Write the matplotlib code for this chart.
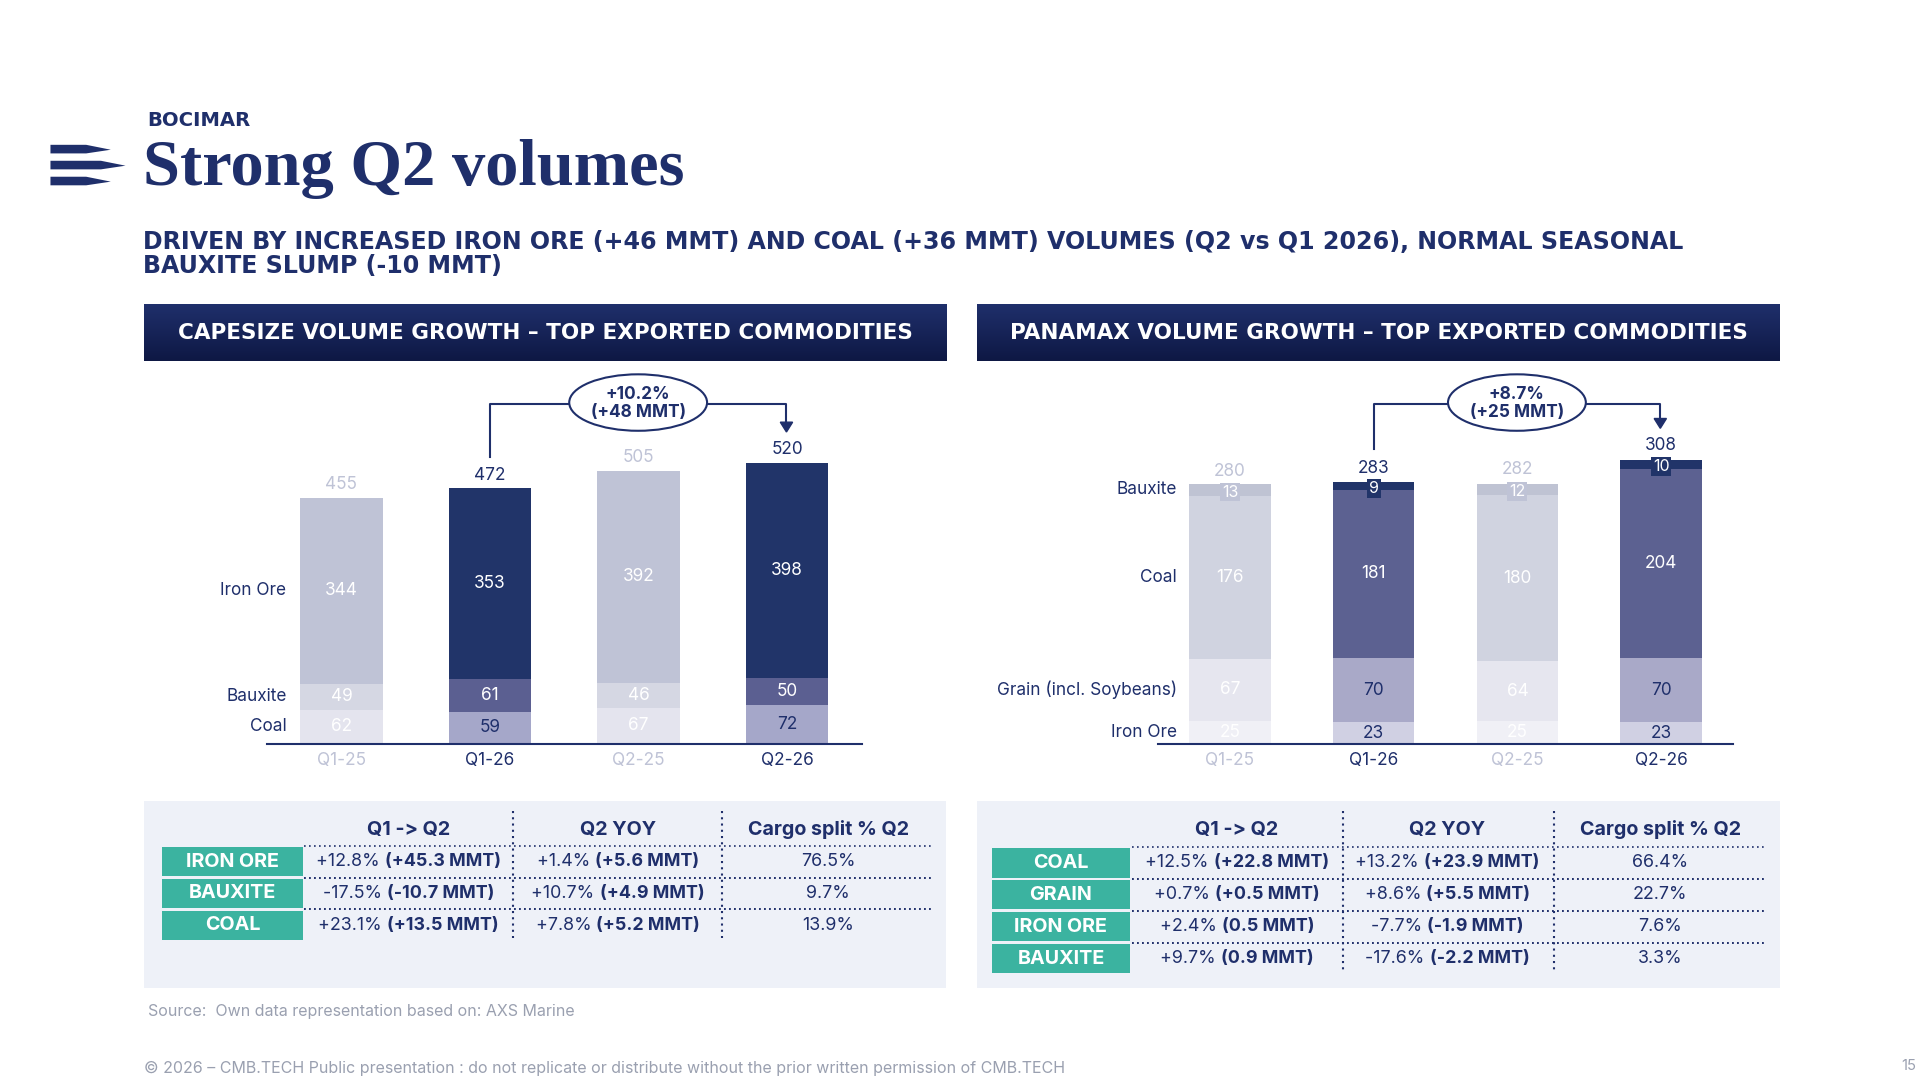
import numpy as np
import matplotlib.pyplot as plt
from matplotlib.patches import Rectangle, Ellipse, Polygon
from matplotlib.colors import LinearSegmentedColormap

plt.rcParams['font.family'] = ['Inter', 'DejaVu Sans']

# Data
quarters = ['Q1-25', 'Q1-26', 'Q2-25', 'Q2-26']
highlight = [False, True, False, True]

cape_series = ['Coal', 'Bauxite', 'Iron Ore']
cape_values = {'Coal': [62, 59, 67, 72], 'Bauxite': [49, 61, 46, 50], 'Iron Ore': [344, 353, 392, 398]}
cape_totals = [455, 472, 505, 520]

pana_series = ['Iron Ore', 'Grain (incl. Soybeans)', 'Coal', 'Bauxite']
pana_values = {'Iron Ore': [25, 23, 25, 23], 'Grain (incl. Soybeans)': [67, 70, 64, 70],
               'Coal': [176, 181, 180, 204], 'Bauxite': [13, 9, 12, 10]}
pana_totals = [280, 283, 282, 308]

cape_rows = ['IRON ORE', 'BAUXITE', 'COAL']
cape_q1q2 = [('+12.8%', '(+45.3 MMT)'), ('-17.5%', '(-10.7 MMT)'), ('+23.1%', '(+13.5 MMT)')]
cape_yoy = [('+1.4%', '(+5.6 MMT)'), ('+10.7%', '(+4.9 MMT)'), ('+7.8%', '(+5.2 MMT)')]
cape_split = ['76.5%', '9.7%', '13.9%']

pana_rows = ['COAL', 'GRAIN', 'IRON ORE', 'BAUXITE']
pana_q1q2 = [('+12.5%', '(+22.8 MMT)'), ('+0.7%', '(+0.5 MMT)'), ('+2.4%', '(0.5 MMT)'), ('+9.7%', '(0.9 MMT)')]
pana_yoy = [('+13.2%', '(+23.9 MMT)'), ('+8.6%', '(+5.5 MMT)'), ('-7.7%', '(-1.9 MMT)'), ('-17.6%', '(-2.2 MMT)')]
pana_split = ['66.4%', '22.7%', '7.6%', '3.3%']

NAVY = '#1f2f6b'
TEAL = '#3bb3a0'
W, H = 1560, 880

cape_colors = {
    'Coal': ('#e4e4ee', '#a5a7c9'),
    'Bauxite': ('#d5d7e3', '#5b5f91'),
    'Iron Ore': ('#bfc3d6', '#213469'),
}
cape_lab = {'Coal': NAVY, 'Bauxite': 'white', 'Iron Ore': 'white'}
pana_colors = {
    'Iron Ore': ('#f0f0f6', '#d0d0e3'),
    'Grain (incl. Soybeans)': ('#e6e6ef', '#a9a9c8'),
    'Coal': ('#d0d3e0', '#5c6191'),
    'Bauxite': ('#bfc3d3', '#213469'),
}
pana_lab = {'Iron Ore': NAVY, 'Grain (incl. Soybeans)': NAVY, 'Coal': 'white', 'Bauxite': 'white'}

fig = plt.figure(figsize=(19.2, 10.8), dpi=100)
fig.patch.set_facecolor('white')
ov = fig.add_axes([0, 0, 1, 1])
ov.axis('off')

def pt(px):
    return px * (1920 / W) * 72 / 100

# header
ov.text(120, 98, 'BOCIMAR', fontsize=pt(16), fontweight='bold', color=NAVY, va='center',
        family='DejaVu Sans')
ov.text(116, 138, 'Strong Q2 volumes', fontsize=pt(54), fontweight='bold', color=NAVY,
        va='center', family='Liberation Serif')
for y0, x1 in [(118, 90), (131, 102), (144, 90)]:
    ov.add_patch(Polygon([[41, y0], [x1 - 20, y0], [x1, y0 + 4], [x1 - 20, y0 + 7], [41, y0 + 7]],
                         closed=True, color=NAVY, lw=0))
ov.text(116, 207, 'DRIVEN BY INCREASED IRON ORE (+46 MMT) AND COAL (+36 MMT) VOLUMES (Q2 vs Q1 2026), NORMAL SEASONAL\nBAUXITE SLUMP (-10 MMT)',
        fontsize=pt(19.3), fontweight='bold', color=NAVY, va='center', linespacing=1.0,
        family='DejaVu Sans')

grad = np.linspace(0, 1, 50).reshape(-1, 1)
cmap = LinearSegmentedColormap.from_list('g', ['#1f2f6b', '#0e1844'])
for x0, txt in [(117, 'CAPESIZE VOLUME GROWTH – TOP EXPORTED COMMODITIES'),
                (794, 'PANAMAX VOLUME GROWTH – TOP EXPORTED COMMODITIES')]:
    ov.imshow(grad, extent=[x0, x0 + 652, 294, 248], cmap=cmap, aspect='auto', zorder=1)
    ov.text(x0 + 326, 271, txt, color='white', fontsize=pt(17.5), fontweight='bold',
            ha='center', va='center', zorder=2, family='DejaVu Sans')
ov.set_xlim(0, W)
ov.set_ylim(H, 0)

def bar_axes(x0, x1, ytop, ymax):
    ax = fig.add_axes([x0 / W, 1 - 606 / H, (x1 - x0) / W, (606 - ytop) / H])
    ax.set_xlim(-0.5, 3.5)
    ax.set_ylim(0, ymax)
    ax.patch.set_alpha(0)
    for s in ['top', 'right', 'left']:
        ax.spines[s].set_visible(False)
    ax.spines['bottom'].set_color(NAVY)
    ax.spines['bottom'].set_linewidth(1.5)
    ax.set_yticks([])
    ax.set_xticks(range(4))
    ax.set_xticklabels(quarters, fontsize=pt(14))
    for lab, hl in zip(ax.get_xticklabels(), highlight):
        lab.set_color(NAVY if hl else '#bfc3d6')
    ax.tick_params(axis='x', length=0, pad=6)
    return ax

def draw_stack(ax, series, values, colors, labcol, totals, width, small=()):
    x = np.arange(4)
    bottom = np.zeros(4)
    ymax = ax.get_ylim()[1]
    for s in series:
        v = np.array(values[s], dtype=float)
        cols = [colors[s][1] if hl else colors[s][0] for hl in highlight]
        ax.bar(x, v, width, bottom=bottom, color=cols, lw=0)
        for i in range(4):
            if s in small:
                ax.text(x[i], bottom[i] + v[i] / 2 - ymax * 0.006, str(values[s][i]), ha='center', va='center',
                        fontsize=pt(13), color='white',
                        bbox=dict(boxstyle='square,pad=0.12', fc=colors[s][1] if highlight[i] else '#bfc3d6', lw=0))
            else:
                ax.text(x[i], bottom[i] + v[i] / 2, str(values[s][i]), ha='center', va='center',
                        fontsize=pt(14), color=labcol[s] if highlight[i] else 'white')
        ax.text(-0.37, bottom[0] + v[0] / 2, s, ha='right', va='center', fontsize=pt(14), color=NAVY)
        bottom += v
    for i in range(4):
        ax.text(x[i], totals[i] + ymax * 0.012, str(totals[i]), ha='center', va='bottom', fontsize=pt(14),
                color=NAVY if highlight[i] else '#bfc3d6')

ax1 = bar_axes(217, 700, 300, 695)
draw_stack(ax1, cape_series, cape_values, cape_colors, cape_lab, cape_totals, 0.555)
ax2 = bar_axes(941, 1408, 300, 406)
draw_stack(ax2, pana_series, pana_values, pana_colors, pana_lab, pana_totals, 0.565, small=('Bauxite',))

# growth brackets
for xa, xb, ya, yb, txt in [(398, 639, 372, 352, '+10.2%\n(+48 MMT)'),
                            (1116, 1349, 366, 349, '+8.7%\n(+25 MMT)')]:
    xm = (xa + xb) / 2
    ov.plot([xa, xa, xb, xb], [ya, 329, 329, yb - 6], color=NAVY, lw=1.5, zorder=3)
    ov.add_patch(Polygon([[xb - 5, yb - 8], [xb + 5, yb - 8], [xb, yb]], color=NAVY, zorder=3))
    ov.add_patch(Ellipse((xm, 328), 112, 46, fc='white', ec=NAVY, lw=1.5, zorder=4))
    ov.text(xm, 329, txt, ha='center', va='center', fontsize=pt(14), fontweight='bold',
            color=NAVY, zorder=5, linespacing=1.1)

# tables
fig.canvas.draw()
renderer = fig.canvas.get_renderer()
sc = 1920 / W

def mixed(cx, cy, a, b):
    t1 = ov.text(0, cy, a + ' ', fontsize=pt(14.5), color=NAVY, va='center', ha='left')
    t2 = ov.text(0, cy, b, fontsize=pt(14.5), color=NAVY, va='center', ha='left', fontweight='bold')
    w1 = t1.get_window_extent(renderer).width / sc
    w2 = t2.get_window_extent(renderer).width / sc
    start = cx - (w1 + w2) / 2
    t1.set_x(start)
    t2.set_x(start + w1)

def table(x0, rows, q1q2, yoy, split, cols, vlines, lx):
    nrow = len(rows)
    ov.add_patch(Rectangle((x0, 653), 652, 152, color='#eef1f8', lw=0, zorder=0))
    for cx, h in zip(cols, ['Q1 -> Q2', 'Q2 YOY', 'Cargo split % Q2']):
        ov.text(cx, 676, h, ha='center', va='center', fontsize=pt(16), fontweight='bold', color=NAVY)
    ystart = 702 if nrow == 3 else 703
    for vx in vlines:
        ov.plot([vx, vx], [661, ystart + 26 * (nrow - 1) + 10], color=NAVY, lw=1.5, ls=(0, (1, 2)))
    for r in range(nrow):
        yc = ystart + 26 * r
        ov.plot([lx[0], lx[1]], [yc - 13, yc - 13], color=NAVY, lw=1.2, ls=(0, (1, 2)))
        if r < nrow - 1:
            ov.plot([lx[0], lx[1]], [yc + 13, yc + 13], color=NAVY, lw=1.2, ls=(0, (1, 2)))
        ov.add_patch(Rectangle((x0 + 15 if nrow == 3 else x0 + 12, yc - 12), 114 if nrow == 3 else 112, 24,
                               color=TEAL, lw=0))
        ov.text((x0 + 72 if nrow == 3 else x0 + 68), yc, rows[r], ha='center', va='center',
                fontsize=pt(16), fontweight='bold', color='white')
        mixed(cols[0], yc, *q1q2[r])
        mixed(cols[1], yc, *yoy[r])
        ov.text(cols[2], yc, split[r], ha='center', va='center', fontsize=pt(14.5), color=NAVY)

table(117, cape_rows, cape_q1q2, cape_yoy, cape_split, [332, 502, 673], [417, 587], (247, 757))
table(794, pana_rows, pana_q1q2, pana_yoy, pana_split, [1005, 1176, 1349], [1091, 1263], (920, 1435))

ov.text(120, 824, 'Source:  Own data representation based on: AXS Marine', fontsize=pt(13),
        color='#9aa0b0', va='center')
ov.text(117, 871, '© 2026 – CMB.TECH Public presentation : do not replicate or distribute without the prior written permission of CMB.TECH',
        fontsize=pt(13), color='#9aa0b0', va='center')
ov.text(1557, 869, '15', fontsize=pt(12), color='#9aa0b0', va='center', ha='right')

fig.savefig('out.png', dpi=100)
